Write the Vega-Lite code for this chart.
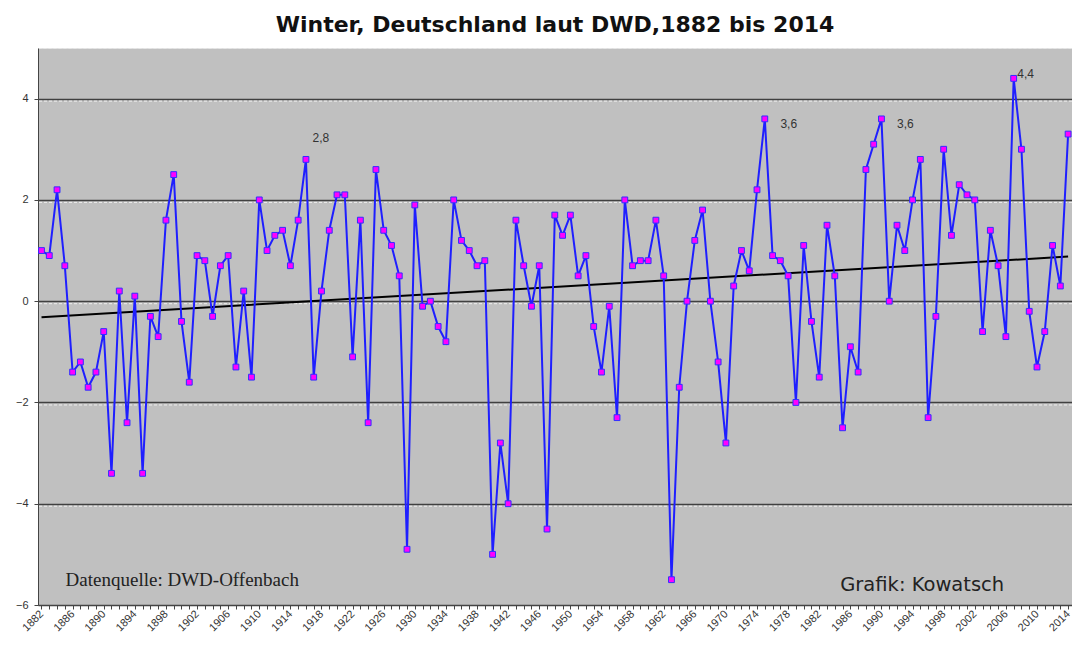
{
  "$schema": "https://vega.github.io/schema/vega-lite/v6.json",
  "width": 1034,
  "height": 557,
  "autosize": {"type": "none"},
  "padding": {"left": 38, "top": 48, "right": 0, "bottom": 40},
  "background": "white",
  "title": {"text": "Winter, Deutschland laut DWD,1882 bis 2014", "font": "DejaVu Sans", "fontSize": 22, "fontWeight": "bold", "color": "#111111", "anchor": "middle", "baseline": "alphabetic", "offset": -6},
  "config": {
    "view": {"fill": "#C0C0C0", "stroke": "#E6E6E6", "strokeDash": [3, 2]},
    "axis": {"labelFont": "Liberation Sans", "labelColor": "#333333", "labelFontSize": 11, "domainColor": "#444444", "tickColor": "#444444"}
  },
  "data": {"values": [
    {"year":1882,"value":1.0},{"year":1883,"value":0.9},{"year":1884,"value":2.2},{"year":1885,"value":0.7},{"year":1886,"value":-1.4},
    {"year":1887,"value":-1.2},{"year":1888,"value":-1.7},{"year":1889,"value":-1.4},{"year":1890,"value":-0.6},{"year":1891,"value":-3.4},
    {"year":1892,"value":0.2},{"year":1893,"value":-2.4},{"year":1894,"value":0.1},{"year":1895,"value":-3.4},{"year":1896,"value":-0.3},
    {"year":1897,"value":-0.7},{"year":1898,"value":1.6},{"year":1899,"value":2.5},{"year":1900,"value":-0.4},{"year":1901,"value":-1.6},
    {"year":1902,"value":0.9},{"year":1903,"value":0.8},{"year":1904,"value":-0.3},{"year":1905,"value":0.7},{"year":1906,"value":0.9},
    {"year":1907,"value":-1.3},{"year":1908,"value":0.2},{"year":1909,"value":-1.5},{"year":1910,"value":2.0},{"year":1911,"value":1.0},
    {"year":1912,"value":1.3},{"year":1913,"value":1.4},{"year":1914,"value":0.7},{"year":1915,"value":1.6},{"year":1916,"value":2.8,"label":"2,8"},
    {"year":1917,"value":-1.5},{"year":1918,"value":0.2},{"year":1919,"value":1.4},{"year":1920,"value":2.1},{"year":1921,"value":2.1},
    {"year":1922,"value":-1.1},{"year":1923,"value":1.6},{"year":1924,"value":-2.4},{"year":1925,"value":2.6},{"year":1926,"value":1.4},
    {"year":1927,"value":1.1},{"year":1928,"value":0.5},{"year":1929,"value":-4.9},{"year":1930,"value":1.9},{"year":1931,"value":-0.1},
    {"year":1932,"value":0.0},{"year":1933,"value":-0.5},{"year":1934,"value":-0.8},{"year":1935,"value":2.0},{"year":1936,"value":1.2},
    {"year":1937,"value":1.0},{"year":1938,"value":0.7},{"year":1939,"value":0.8},{"year":1940,"value":-5.0},{"year":1941,"value":-2.8},
    {"year":1942,"value":-4.0},{"year":1943,"value":1.6},{"year":1944,"value":0.7},{"year":1945,"value":-0.1},{"year":1946,"value":0.7},
    {"year":1947,"value":-4.5},{"year":1948,"value":1.7},{"year":1949,"value":1.3},{"year":1950,"value":1.7},{"year":1951,"value":0.5},
    {"year":1952,"value":0.9},{"year":1953,"value":-0.5},{"year":1954,"value":-1.4},{"year":1955,"value":-0.1},{"year":1956,"value":-2.3},
    {"year":1957,"value":2.0},{"year":1958,"value":0.7},{"year":1959,"value":0.8},{"year":1960,"value":0.8},{"year":1961,"value":1.6},
    {"year":1962,"value":0.5},{"year":1963,"value":-5.5},{"year":1964,"value":-1.7},{"year":1965,"value":0.0},{"year":1966,"value":1.2},
    {"year":1967,"value":1.8},{"year":1968,"value":0.0},{"year":1969,"value":-1.2},{"year":1970,"value":-2.8},{"year":1971,"value":0.3},
    {"year":1972,"value":1.0},{"year":1973,"value":0.6},{"year":1974,"value":2.2},{"year":1975,"value":3.6,"label":"3,6"},{"year":1976,"value":0.9},
    {"year":1977,"value":0.8},{"year":1978,"value":0.5},{"year":1979,"value":-2.0},{"year":1980,"value":1.1},{"year":1981,"value":-0.4},
    {"year":1982,"value":-1.5},{"year":1983,"value":1.5},{"year":1984,"value":0.5},{"year":1985,"value":-2.5},{"year":1986,"value":-0.9},
    {"year":1987,"value":-1.4},{"year":1988,"value":2.6},{"year":1989,"value":3.1},{"year":1990,"value":3.6,"label":"3,6"},{"year":1991,"value":0.0},
    {"year":1992,"value":1.5},{"year":1993,"value":1.0},{"year":1994,"value":2.0},{"year":1995,"value":2.8},{"year":1996,"value":-2.3},
    {"year":1997,"value":-0.3},{"year":1998,"value":3.0},{"year":1999,"value":1.3},{"year":2000,"value":2.3},{"year":2001,"value":2.1},
    {"year":2002,"value":2.0},{"year":2003,"value":-0.6},{"year":2004,"value":1.4},{"year":2005,"value":0.7},{"year":2006,"value":-0.7},
    {"year":2007,"value":4.4,"label":"4,4"},{"year":2008,"value":3.0},{"year":2009,"value":-0.2},{"year":2010,"value":-1.3},{"year":2011,"value":-0.6},
    {"year":2012,"value":1.1},{"year":2013,"value":0.3},{"year":2014,"value":3.3}
  ]},
  "encoding": {
    "x": {"field": "year", "type": "quantitative", "scale": {"domain": [1881.55, 2014.5], "nice": false, "zero": false},
      "axis": {"title": null, "grid": false, "labelAngle": -45, "labelAlign": "right", "labelBaseline": "middle", "tickSize": 4, "labelPadding": 3,
        "values": [1882,1883,1884,1885,1886,1887,1888,1889,1890,1891,1892,1893,1894,1895,1896,1897,1898,1899,1900,1901,1902,1903,1904,1905,1906,1907,1908,1909,1910,1911,1912,1913,1914,1915,1916,1917,1918,1919,1920,1921,1922,1923,1924,1925,1926,1927,1928,1929,1930,1931,1932,1933,1934,1935,1936,1937,1938,1939,1940,1941,1942,1943,1944,1945,1946,1947,1948,1949,1950,1951,1952,1953,1954,1955,1956,1957,1958,1959,1960,1961,1962,1963,1964,1965,1966,1967,1968,1969,1970,1971,1972,1973,1974,1975,1976,1977,1978,1979,1980,1981,1982,1983,1984,1985,1986,1987,1988,1989,1990,1991,1992,1993,1994,1995,1996,1997,1998,1999,2000,2001,2002,2003,2004,2005,2006,2007,2008,2009,2010,2011,2012,2013,2014],
        "labelExpr": "(datum.value - 1882) % 4 === 0 ? datum.value : ''", "labelOverlap": false, "format": "d"}},
    "y": {"field": "value", "type": "quantitative", "scale": {"domain": [-6, 5], "nice": false, "zero": false},
      "axis": {"title": null, "values": [-6, -4, -2, 0, 2, 4], "grid": true, "gridColor": "#404040", "gridWidth": 1.5, "tickSize": 4, "labelPadding": 6}}
  },
  "layer": [
    {
      "data": {"values": [{"g": -4}, {"g": -2}, {"g": 0}, {"g": 2}, {"g": 4}]},
      "mark": {"type": "rule", "color": "#EEEEEE", "strokeDash": [3, 2], "strokeWidth": 1, "yOffset": 2.5},
      "encoding": {"y": {"field": "g", "type": "quantitative"}, "x": null}
    },
    {
      "transform": [{"regression": "value", "on": "year", "extent": [1882, 2014]}],
      "mark": {"type": "line", "color": "#000000", "strokeWidth": 2},
      "encoding": {}
    },
    {
      "mark": {"type": "line", "color": "#1F1FFF", "strokeWidth": 2},
      "encoding": {}
    },
    {
      "mark": {"type": "point", "shape": "square", "filled": true, "fill": "#FF00FF", "stroke": "#3030FF", "strokeWidth": 1, "size": 34, "opacity": 1},
      "encoding": {}
    },
    {
      "transform": [{"filter": "datum.year === 1916"}],
      "mark": {"type": "text", "font": "Liberation Sans", "fontSize": 12, "color": "#333333", "dx": 15, "dy": -21},
      "encoding": {"text": {"field": "label"}}
    },
    {
      "transform": [{"filter": "datum.year === 1975 || datum.year === 1990"}],
      "mark": {"type": "text", "font": "Liberation Sans", "fontSize": 12, "color": "#333333", "dx": 24, "dy": 5},
      "encoding": {"text": {"field": "label"}}
    },
    {
      "transform": [{"filter": "datum.year === 2007"}],
      "mark": {"type": "text", "font": "Liberation Sans", "fontSize": 12, "color": "#333333", "dx": 12, "dy": -4},
      "encoding": {"text": {"field": "label"}}
    },
    {
      "data": {"values": [{"year": 1885.1, "value": -5.5, "note": "Datenquelle: DWD-Offenbach"}]},
      "mark": {"type": "text", "font": "Liberation Serif", "fontSize": 19, "color": "#222222", "align": "left", "baseline": "middle"},
      "encoding": {"text": {"field": "note"}}
    },
    {
      "data": {"values": [{"year": 1984.7, "value": -5.6, "note": "Grafik: Kowatsch"}]},
      "mark": {"type": "text", "font": "DejaVu Sans", "fontSize": 19.5, "color": "#222222", "align": "left", "baseline": "middle"},
      "encoding": {"text": {"field": "note"}}
    }
  ]
}
